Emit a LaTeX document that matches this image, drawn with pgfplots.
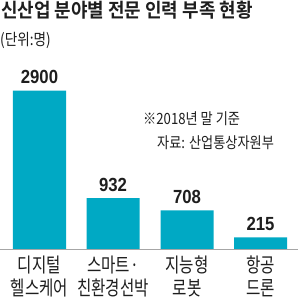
\documentclass[border=0pt]{standalone}
\usepackage{fontspec}
\usepackage{pgfplots}
\pgfplotsset{compat=1.18}
\setmainfont{Noto Sans CJK KR}
\newfontfamily\cjk[FakeStretch=0.85]{Noto Sans CJK KR}
\newfontfamily\cjkl[FakeStretch=0.78]{Noto Sans CJK KR}
\newfontfamily\cjkt[FakeStretch=0.92]{Noto Sans CJK KR Bold}
\newfontfamily\numf[FakeStretch=0.88]{Liberation Sans}
\definecolor{barc}{RGB}{0,169,196}
\definecolor{txt}{RGB}{30,30,30}
\begin{document}
\begin{tikzpicture}[x=1pt,y=1pt]
\useasboundingbox (0,0) rectangle (300,304);
\fill[white] (0,0) rectangle (300,304);
\node[anchor=north west,inner sep=0pt,text=txt] at (1,303) {\cjkt\fontsize{19.5}{22}\selectfont 신산업 분야별 전문 인력 부족 현황};
\node[anchor=west,inner sep=0pt,text=txt] at (0,264) {\cjk\fontsize{16}{18}\selectfont (단위:명)};
\node[anchor=west,inner sep=0pt,text=txt] at (143,185) {\cjk\fontsize{15.5}{17}\selectfont ※2018년 말 기준};
\node[anchor=west,inner sep=0pt,text=txt] at (157,161) {\cjk\fontsize{15.5}{17}\selectfont 자료: 산업통상자원부};
\begin{axis}[
  at={(0pt,55pt)}, anchor=origin,
  width=298pt, height=200pt, scale only axis,
  xmin=0, xmax=298, ymin=0, ymax=3660,
  axis x line=bottom, axis y line=none,
  x axis line style={-, draw=gray!70, line width=0.8pt},
  xtick={39.5,113,187,260.5},
  xticklabels={{디지털\\헬스케어},{스마트·\\친환경선박},{지능형\\로봇},{항공\\드론}},
  xticklabel style={align=center, font=\cjkl\fontsize{20}{23.5}\selectfont, text=txt, yshift=-3pt},
  major tick length=0pt,
  ytick=\empty,
  ybar, bar width=53pt,
  nodes near coords,
  nodes near coords style={font=\numf\bfseries\fontsize{19}{20}\selectfont, text=txt, anchor=south, yshift=3pt},
  point meta=explicit symbolic,
  clip=false,
]
\addplot[fill=barc, draw=none] coordinates {(39.5,2900)[2900] (113,932)[932] (187,708)[708] (260.5,215)[215]};
\end{axis}
\end{tikzpicture}
\end{document}
